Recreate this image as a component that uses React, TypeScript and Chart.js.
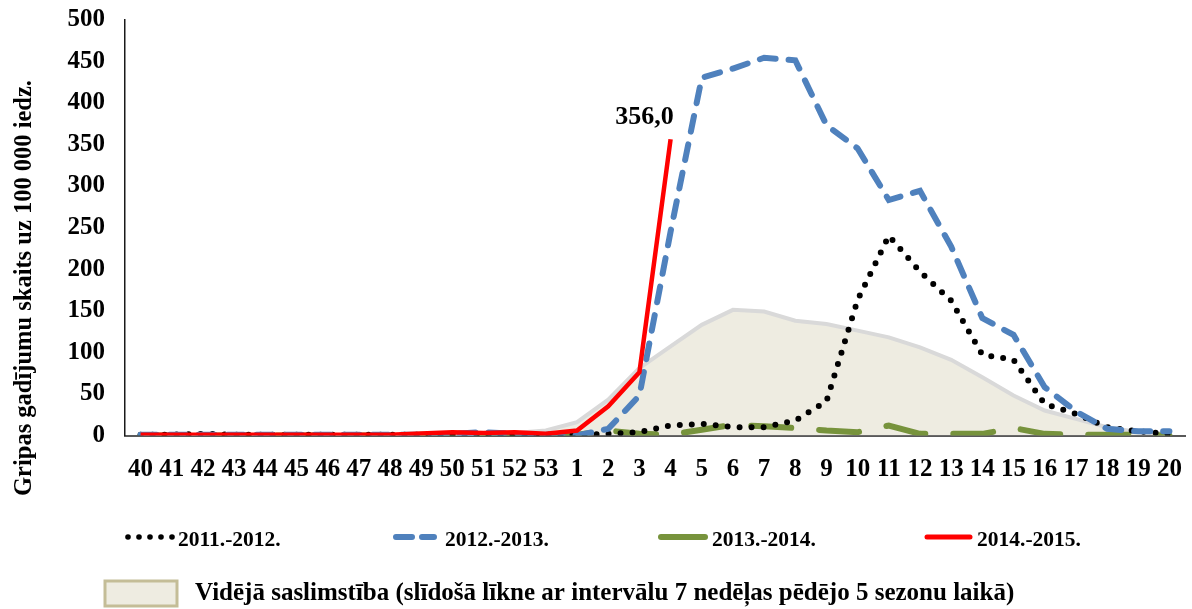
import { useEffect, useRef } from "react";
import { Chart, registerables } from "chart.js";

Chart.register(...registerables);

const weeks = [
  "40", "41", "42", "43", "44", "45", "46", "47", "48", "49", "50", "51", "52", "53",
  "1", "2", "3", "4", "5", "6", "7", "8", "9", "10", "11", "12", "13", "14", "15", "16", "17", "18", "19", "20",
];

const season1112 = [
  1, 1, 2, 1, 1, 1, 1, 1, 1, 1, 1, 1, 1, 1,
  1, 2, 4, 12, 14, 10, 10, 18, 41, 163, 240, 197, 162, 97, 91, 38, 26, 10, 5, 2,
];

const season1213 = [
  1, 1, 1, 1, 1, 1, 1, 1, 1, 1, 2, 4, 2, 1,
  0, 8, 48, 245, 430, 441, 454, 451, 373, 345, 283, 294, 227, 141, 121, 58, 29, 8, 5, 5,
];

const season1314 = [
  0, 0, 0, 0, 0, 0, 0, 0, 0, 1, 1, 1, 1, 1,
  1, 6, 2, 1, 7, 13, 11, 9, 6, 4, 12, 2, 2, 2, 9, 2, 1, 1, 1, 0,
];

const season1415 = [
  1, 1, 1, 1, 1, 1, 1, 1, 1, 2.5, 4, 3, 4, 2,
  6, 35, 76, 356, null, null, null, null, null, null, null, null, null, null, null, null, null, null, null, null,
];

const averageFive = [
  0, 0, 0, 0, 0, 0, 0, 0, 1, 1, 1, 2, 3, 6,
  16, 43, 81, 107, 133, 151, 149, 138, 134, 126, 118, 106, 91, 70, 48, 30, 20, 10, 4, 2,
];

const yTicks = [0, 50, 100, 150, 200, 250, 300, 350, 400, 450, 500];

const seriesLabels = ["2011.-2012.", "2012.-2013.", "2013.-2014.", "2014.-2015."];
const averageLabel =
  "Vidējā saslimstība (slīdošā līkne ar intervālu 7 nedēļas pēdējo 5 sezonu laikā)";
const yTitle = "Gripas gadījumu skaits uz 100 000 iedz.";
const peakLabel = "356,0";

const FONT = "'Liberation Serif', 'Times New Roman', serif";
const BLACK = "#000000";
const BLUE = "#4F81BD";
const GREEN = "#77933C";
const RED = "#FF0000";
const AVG_FILL = "#EEECE1";
const AVG_LINE = "#D9D9D9";
const AVG_BOX = "#C4BD97";

const decorPlugin = {
  id: "decor",
  afterDraw(chart: any) {
    const ctx = chart.ctx as CanvasRenderingContext2D;
    const xs = chart.scales.x;
    const ys = chart.scales.y;
    ctx.save();

    // y axis title
    ctx.save();
    ctx.translate(25, 288);
    ctx.rotate(-Math.PI / 2);
    ctx.font = `bold 24.5px ${FONT}`;
    ctx.fillStyle = BLACK;
    ctx.textAlign = "center";
    ctx.textBaseline = "middle";
    ctx.fillText(yTitle, 0, 0);
    ctx.restore();

    // peak data label
    let peakIdx = -1;
    season1415.forEach((v, i) => {
      if (v !== null) peakIdx = i;
    });
    if (peakIdx >= 0) {
      const px = xs.getPixelForValue(peakIdx);
      const py = ys.getPixelForValue(season1415[peakIdx] as number);
      ctx.font = `bold 26px ${FONT}`;
      ctx.fillStyle = BLACK;
      ctx.textAlign = "center";
      ctx.textBaseline = "middle";
      ctx.fillText(peakLabel, px - 26, py - 22);
    }

    // legend row 1
    const ly = 537;
    ctx.font = `bold 21.5px ${FONT}`;
    ctx.fillStyle = BLACK;
    ctx.textAlign = "left";
    ctx.textBaseline = "middle";

    for (let i = 0; i < 5; i++) {
      ctx.beginPath();
      ctx.arc(128 + i * 11, ly, 2.8, 0, Math.PI * 2);
      ctx.fill();
    }
    ctx.fillText(seriesLabels[0], 178, ly + 3);

    ctx.lineCap = "round";
    ctx.strokeStyle = BLUE;
    ctx.lineWidth = 6;
    ctx.beginPath();
    ctx.moveTo(396, ly);
    ctx.lineTo(412, ly);
    ctx.moveTo(422, ly);
    ctx.lineTo(434, ly);
    ctx.stroke();
    ctx.fillText(seriesLabels[1], 445, ly + 3);

    ctx.strokeStyle = GREEN;
    ctx.lineWidth = 6;
    ctx.beginPath();
    ctx.moveTo(661, ly);
    ctx.lineTo(705, ly);
    ctx.stroke();
    ctx.fillText(seriesLabels[2], 712, ly + 3);

    ctx.strokeStyle = RED;
    ctx.lineWidth = 5;
    ctx.beginPath();
    ctx.moveTo(927, ly);
    ctx.lineTo(970, ly);
    ctx.stroke();
    ctx.fillText(seriesLabels[3], 977, ly + 3);

    // legend row 2
    ctx.fillStyle = AVG_FILL;
    ctx.fillRect(105, 581, 72, 25);
    ctx.strokeStyle = AVG_BOX;
    ctx.lineWidth = 3;
    ctx.strokeRect(105, 581, 72, 25);
    ctx.fillStyle = BLACK;
    ctx.font = `bold 25px ${FONT}`;
    ctx.fillText(averageLabel, 195, 594);

    ctx.restore();
  },
};

export default function App() {
  const ref = useRef<HTMLCanvasElement | null>(null);

  useEffect(() => {
    document.body.style.margin = "0";
    const canvas = ref.current;
    if (!canvas) return;
    const chart = new Chart(canvas, {
      type: "line",
      data: {
        labels: weeks,
        datasets: [
          {
            label: seriesLabels[3],
            data: season1415,
            borderColor: RED,
            borderWidth: 4.5,
            pointRadius: 0,
            tension: 0,
            fill: false,
            order: 1,
            spanGaps: false,
          },
          {
            label: seriesLabels[1],
            data: season1213,
            borderColor: BLUE,
            borderWidth: 6,
            borderDash: [16, 13],
            borderCapStyle: "round",
            pointRadius: 0,
            tension: 0,
            fill: false,
            order: 2,
          },
          {
            label: seriesLabels[0],
            data: season1112,
            borderColor: BLACK,
            borderWidth: 6,
            borderDash: [0, 12],
            borderCapStyle: "round",
            pointRadius: 0,
            tension: 0,
            fill: false,
            order: 3,
          },
          {
            label: seriesLabels[2],
            data: season1314,
            borderColor: GREEN,
            borderWidth: 6,
            borderDash: [40, 28],
            borderCapStyle: "round",
            pointRadius: 0,
            tension: 0,
            fill: false,
            order: 4,
          },
          {
            label: averageLabel,
            data: averageFive,
            borderColor: AVG_LINE,
            backgroundColor: AVG_FILL,
            borderWidth: 4,
            pointRadius: 0,
            tension: 0,
            fill: "origin",
            order: 10,
          },
        ],
      },
      options: {
        responsive: false,
        animation: false,
        layout: { padding: { left: 0, right: 7, top: 19.5, bottom: 0 } },
        plugins: {
          legend: { display: false },
          tooltip: { enabled: false },
          title: { display: false },
        },
        scales: {
          x: {
            offset: true,
            grid: { display: false, drawTicks: false },
            border: { display: true, color: "#595959", width: 2 },
            ticks: {
              autoSkip: false,
              maxRotation: 0,
              minRotation: 0,
              color: BLACK,
              padding: 19,
              font: { family: FONT, size: 25, weight: "bold" },
            },
            afterFit: (s: any) => {
              s.height = 173.5;
              s.paddingLeft = 0;
              s.paddingRight = 0;
            },
          },
          y: {
            min: 0,
            max: 500,
            afterBuildTicks: (s: any) => {
              s.ticks = yTicks.map((v) => ({ value: v }));
            },
            grid: { display: false, drawTicks: false },
            border: { display: true, color: "#1a1a1a", width: 1.5 },
            ticks: {
              color: BLACK,
              padding: 20,
              font: { family: FONT, size: 25, weight: "bold" },
            },
            afterFit: (s: any) => {
              s.width = 125;
              s.paddingTop = 0;
              s.paddingBottom = 0;
            },
          },
        },
      },
      plugins: [decorPlugin],
    });
    return () => chart.destroy();
  }, []);

  return (
    <div style={{ width: 1192, height: 609, background: "#ffffff" }}>
      <canvas ref={ref} width={1192} height={609} style={{ display: "block" }} />
    </div>
  );
}
